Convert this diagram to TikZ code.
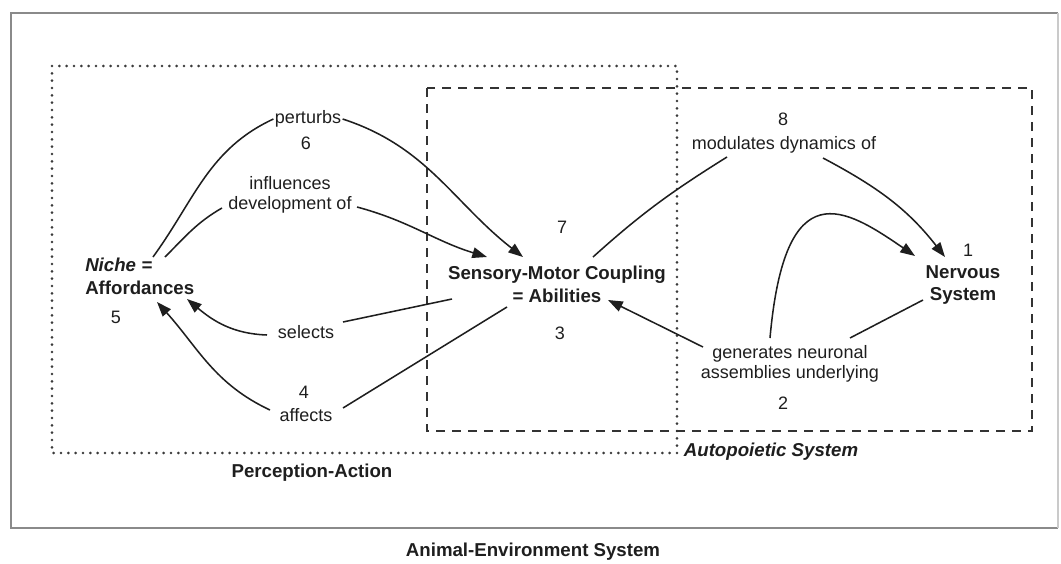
\documentclass[tikz,border=0pt]{standalone}
\usepackage{fontspec}
\setmainfont{Liberation Sans}
\usetikzlibrary{arrows.meta}
\definecolor{ink}{HTML}{1E1E1E}
\definecolor{frame}{HTML}{8A8A8A}
\definecolor{dotc}{HTML}{3A3A3A}
\definecolor{dashc}{HTML}{333333}
\begin{document}
\begin{tikzpicture}[x=0.75pt,y=-0.75pt,
  lbl/.style={font=\fontsize{13.5}{15}\selectfont, text=ink, inner sep=1pt, align=center},
  key/.style={font=\bfseries\fontsize{14}{17}\selectfont, text=ink, inner sep=0pt, align=center},
  num/.style={font=\fontsize{13.5}{15}\selectfont, text=ink, inner sep=0pt},
  link/.style={draw=ink, line width=1.15pt},
  arr/.style={link, -{Triangle[length=11pt,width=8pt]}},
  outerbox/.style={draw=frame, line width=1.6pt},
  dotbox/.style={draw=dotc, line width=2.2pt, line cap=round, dash pattern=on 0pt off 5.5pt},
  dashbox/.style={draw=dashc, line width=1.3pt, dash pattern=on 7pt off 5pt}]
\useasboundingbox (0,0) rectangle (1061,564);

% frames of the three systems
\draw[outerbox] (1058,13) -- (11,13) -- (11,528) -- (1058,528);
\draw[draw=frame!45, line width=1pt] (1058,13) -- (1058,528);
\draw[dotbox] (52,66) rectangle (677,453);
\draw[dashbox] (427,88) rectangle (1032,431);

% main nodes
\node[key, align=left, anchor=west] (niche) at (85,276.5) {\textit{Niche =}\\Affordances};
\node[key] (smc) at (557,284) {Sensory-Motor Coupling\\= Abilities};
\node[key] (ns) at (963,285) {Nervous\\System};

% numbers
\node[num] (n1) at (968,250) {1};
\node[num] (n2) at (783,403) {2};
\node[num] (n3) at (560,333) {3};
\node[num] (n4) at (304,392) {4};
\node[num] (n5) at (116,317) {5};
\node[num] (n6) at (306,143) {6};
\node[num] (n7) at (562,227) {7};
\node[num] (n8) at (783,119) {8};

% relation labels
\node[lbl] (perturbs) at (308,119) {perturbs};
\node[lbl] (infl) at (290,195) {influences\\development of};
\node[lbl] (selects) at (306,332) {selects};
\node[lbl] (affects) at (306,415) {affects};
\node[lbl] (modul) at (784,145) {modulates dynamics of};
\node[lbl] (gen) at (790,364) {generates neuronal\\assemblies underlying};

% system names
\node[key] (pa) at (312,473) {Perception-Action};
\node[key, font=\bfseries\itshape\fontsize{14}{17}\selectfont] (as) at (771,452) {Autopoietic System};
\node[key] (aes) at (533,552) {Animal-Environment System};

% niche perturbs coupling
\draw[link] ([shift={(68,-19.5)}]niche.west) to[out=54,in=205] (perturbs.west);
\draw[arr] (perturbs.east) to[out=-18,in=142] ([shift={(-34,-27)}]smc.center);

% niche influences development of coupling
\draw[link] ([shift={(80,-19.5)}]niche.west) to[out=45,in=210] ([shift={(-68,13)}]infl.center);
\draw[arr] ([shift={(67,12)}]infl.center) to[out=-15,in=163] ([shift={(-70,-27)}]smc.center);

% coupling selects niche
\draw[link] ([shift={(-105,15)}]smc.center) -- ([shift={(37,-10)}]selects.center);
\draw[arr] ([shift={(-39,3)}]selects.center) to[out=178,in=-40] ([shift={(102,22.5)}]niche.west);

% coupling affects niche
\draw[link] ([shift={(-50,23)}]smc.center) -- ([shift={(37,-7)}]affects.center);
\draw[arr] ([shift={(-36,-5)}]affects.center) to[out=155,in=-48] ([shift={(72,25.5)}]niche.west);

% coupling modulates dynamics of nervous system
\draw[link] ([shift={(36,-27)}]smc.center) to[out=42,in=212] ([shift={(-57,12)}]modul.center);
\draw[arr] ([shift={(39,13)}]modul.center) to[out=-28,in=128] ([shift={(-18,-28)}]ns.center);

% nervous system generates neuronal assemblies
\draw[link] ([shift={(-40,15)}]ns.center) -- ([shift={(60,-26)}]gen.center);
\draw[arr] ([shift={(-87,-17)}]gen.center) -- ([shift={(51,16)}]smc.center);
\draw[arr] ([shift={(-20,-26)}]gen.center) .. controls +(15,-168) and +(-70,-48) .. ([shift={(-48,-29)}]ns.center);
\end{tikzpicture}
\end{document}
